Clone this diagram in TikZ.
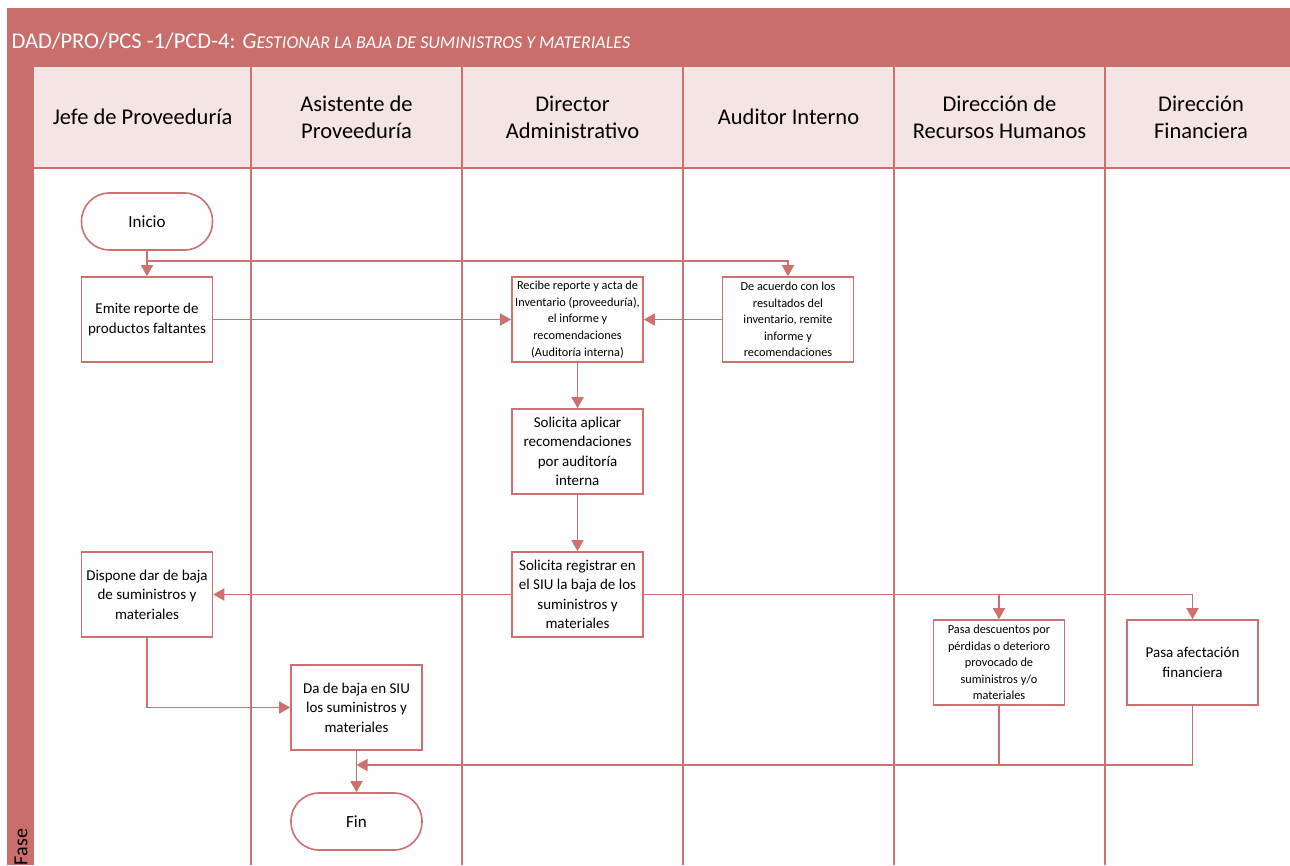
\documentclass[tikz,border=0pt]{standalone}
\usepackage{fontspec}
\setmainfont{Carlito}
\usetikzlibrary{arrows.meta}

\definecolor{bandred}{RGB}{201,110,107}
\definecolor{headpink}{RGB}{245,228,228}
\definecolor{lanered}{RGB}{206,112,112}

% fake small caps for the process name
\newcommand{\scpart}[1]{{\fontsize{18}{19}\selectfont #1}}

\tikzset{
  laneline/.style={draw=lanered, line width=1.6pt},
  lanehead/.style={align=center, font=\fontsize{22.5}{27}\selectfont, text=black},
  procbox/.style={draw=lanered, line width=1.6pt, fill=white, rectangle,
    minimum width=131pt, minimum height=85pt, align=center, inner sep=2pt},
  bigtxt/.style={font=\fontsize{15}{19.5}\selectfont},
  smalltxt/.style={font=\fontsize{12.3}{16.6}\selectfont},
  termbox/.style={draw=lanered, line width=1.6pt, fill=white, rectangle,
    rounded corners=28pt, minimum width=131pt, minimum height=57pt,
    align=center, font=\fontsize{17}{20}\selectfont},
  conn/.style={draw=lanered, line width=1.6pt,
    -{Triangle[length=11pt,width=12pt]}},
  plain/.style={draw=lanered, line width=1.6pt}
}

\begin{document}
\begin{tikzpicture}[x=1pt,y=-1pt]
\useasboundingbox (0,0) rectangle (1290,865);
\fill[white] (0,0) rectangle (1290,865);

% pool frame: title band and phase strip
\fill[bandred] (7,8) rectangle (1290,865);
\fill[headpink] (34,67) rectangle (1290,168);
\fill[white] (34,168) rectangle (1290,865);

\node[anchor=west, text=white, font=\fontsize{22.5}{24}\selectfont] (title) at (8,41)
  {DAD/PRO/PCS -1/PCD-4: \itshape G\scpart{ESTIONAR LA BAJA DE SUMINISTROS Y MATERIALES}};

\node[rotate=90, font=\fontsize{20}{20}\selectfont] (fase) at (21,847) {Fase};

% lane separators
\draw[laneline] (34,168) -- (1290,168);
\foreach \xx in {251,462,683,894,1105} {
  \draw[laneline] (\xx,67) -- (\xx,865);
}

% lane headers
\node[lanehead] (h1) at (142.5,117) {Jefe de Proveeduría};
\node[lanehead] (h2) at (356.5,117) {Asistente de\\Proveeduría};
\node[lanehead] (h3) at (572.5,117) {Director\\Administrativo};
\node[lanehead] (h4) at (788.5,117) {Auditor Interno};
\node[lanehead] (h5) at (999.5,117) {Dirección de\\Recursos Humanos};
\node[lanehead] (h6) at (1201,117) {Dirección\\Financiera};

% activities
\node[termbox] (ini) at (147,221.5) {Inicio};
\node[procbox,bigtxt] (emi) at (147,319.5) {Emite reporte de\\productos faltantes};
\node[procbox,smalltxt] (rec) at (577.5,319.5) {Recibe reporte y acta de\\Inventario (proveeduría),\\el informe y\\recomendaciones\\(Auditoría interna)};
\node[procbox,smalltxt] (dea) at (788,319.5) {De acuerdo con los\\resultados del\\inventario, remite\\informe y\\recomendaciones};
\node[procbox,bigtxt] (sap) at (577.5,451.5) {Solicita aplicar\\recomendaciones\\por auditoría\\interna};
\node[procbox,bigtxt] (sre) at (577.5,594.5) {Solicita registrar en\\el SIU la baja de los\\suministros y\\materiales};
\node[procbox,bigtxt] (dis) at (147,594.5) {Dispone dar de baja\\de suministros y\\materiales};
\node[procbox,bigtxt] (dab) at (356.5,707.5) {Da de baja en SIU\\los suministros y\\materiales};
\node[termbox] (fin) at (356.5,821.5) {Fin};
\node[procbox,smalltxt] (pde) at (999,662.5) {Pasa descuentos por\\pérdidas o deterioro\\provocado de\\suministros y/o\\materiales};
\node[procbox,bigtxt] (paf) at (1192.5,662.5) {Pasa afectación\\financiera};

% flow
\coordinate (split) at (147,261);
\coordinate (merge) at (356.5,765);
\draw[conn] (ini) -- (emi);
\draw[conn] (split) -| (dea.north);
\draw[conn] (emi) -- (rec);
\draw[conn] (dea) -- (rec);
\draw[conn] (rec) -- (sap);
\draw[conn] (sap) -- (sre);
\draw[conn] (sre) -- (dis);
\draw[conn] (sre.east) -| (pde.north);
\draw[conn] (sre.east) -| (paf.north);
\draw[conn] (dis.south) |- (dab.west);
\draw[conn] (dab) -- (fin);
\draw[conn] (pde.south) |- (merge);
\draw[plain] (paf.south) |- (pde.south |- merge);
\end{tikzpicture}
\end{document}
